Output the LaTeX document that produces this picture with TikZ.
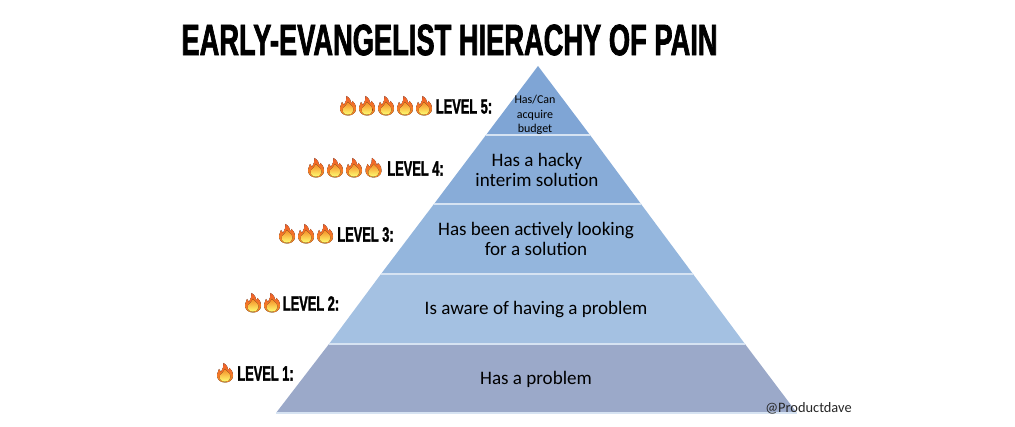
\documentclass[tikz,border=0pt]{standalone}
\usepackage{fontspec}
\setmainfont{Carlito}
\newfontfamily\titlefont[FakeStretch=0.62,FakeBold=1.5]{Liberation Sans Bold}
\definecolor{bandA}{HTML}{9BA9C9}
\definecolor{bandB}{HTML}{A4C1E2}
\definecolor{bandC}{HTML}{94B6DD}
\definecolor{bandD}{HTML}{88ACD8}
\definecolor{bandE}{HTML}{7FA5D5}
\definecolor{bandline}{HTML}{D6E3F2}
\definecolor{flameout}{HTML}{F0602A}
\definecolor{flamelow}{HTML}{F58A25}
\tikzset{
	band/.style={text=black,font=\fontsize{14.3}{15.4}\selectfont,align=center},
	levellabel/.style={font=\titlefont\fontsize{15.5}{17}\selectfont,inner sep=0pt},
	flame/.pic={
		\fill[top color=flameout,bottom color=flamelow] (0,9.5) .. controls (-5,9.5) and (-8.5,6) .. (-8,1.5) .. controls (-7.8,-1) and (-6.5,-2) .. (-6,-4) .. controls (-5,-3) and (-4.5,-2) .. (-4,-1) .. controls (-2.5,-4) and (-1,-7) .. (-1.5,-10) .. controls (2,-8) and (3,-5) .. (3.5,-2.5) .. controls (4,-3) and (4.5,-4) .. (4.5,-5) .. controls (7.5,-2) and (8.5,1) .. (8,3) .. controls (8,7) and (4,9.5) .. (0,9.5) -- cycle;
		\fill[top color=flamelow,bottom color=yellow!55!white] (0,8.7) .. controls (-4,8.7) and (-6,6) .. (-5,2.5) .. controls (-4,0.5) and (-1,-1) .. (0,-4) .. controls (2,-1.5) and (5.5,0.5) .. (5.5,4) .. controls (5.5,7) and (3,8.7) .. (0,8.7) -- cycle;
	}
}
\begin{document}
\begin{tikzpicture}[x=0.75pt,y=-0.75pt]
	\useasboundingbox (0,0) rectangle (1015,427);
%	Title :
	\node[font=\titlefont\fontsize{33}{36}\selectfont,inner sep=0pt] (title) at (449.5,40) {EARLY-EVANGELIST HIERACHY OF PAIN};
%	Pyramid bands :
	\fill[bandE] (538,66) -- (590,135) -- (486,135) -- cycle;
	\fill[bandD] (486,135) -- (590,135) -- (641,204) -- (434,204) -- cycle;
	\fill[bandC] (434,204) -- (641,204) -- (693,274) -- (381,274) -- cycle;
	\fill[bandB] (381,274) -- (693,274) -- (745,344) -- (329,344) -- cycle;
	\fill[bandA] (329,344) -- (745,344) -- (797,413) -- (276,413) -- cycle;
%	Separators :
	\draw[bandline,thick] (486,135) -- (590,135);
	\draw[bandline,thick] (434,204) -- (641,204);
	\draw[bandline,thick] (381,274) -- (693,274);
	\draw[bandline,thick] (329,344) -- (745,344);
	\draw[bandline,thick] (276,413) -- (797,413);
%	Band texts :
	\node[band,font=\fontsize{9}{10.6}\selectfont] (five) at (535,115) {Has/Can\\acquire\\budget};
	\node[band] (four) at (537,170) {Has a hacky\\interim solution};
	\node[band] (three) at (536,239) {Has been actively looking\\for a solution};
	\node[band] (two) at (536,310) {Is aware of having a problem};
	\node[band] (one) at (536,379.5) {Has a problem};
%	Level labels :
	\node[levellabel] (levelfive) at (464,106.5) {LEVEL 5:};
	\node[levellabel] (levelfour) at (415.5,168.5) {LEVEL 4:};
	\node[levellabel] (levelthree) at (365.5,234.5) {LEVEL 3:};
	\node[levellabel] (leveltwo) at (311,303.5) {LEVEL 2:};
	\node[levellabel] (levelone) at (265.5,373.5) {LEVEL 1:};
%	Flames :
	\foreach \xf in {348,367,386,405,424} \pic at (\xf,106) {flame};
	\foreach \xf in {316,335,354,373.5} \pic at (\xf,168) {flame};
	\foreach \xf in {287,306,325} \pic at (\xf,234) {flame};
	\foreach \xf in {253,272} \pic at (\xf,303) {flame};
	\pic at (225,373) {flame};
%	Signature :
	\node[text=black!85,font=\fontsize{10.8}{12}\selectfont,inner sep=0pt] (signature) at (808.5,408) {@Productdave};
\end{tikzpicture}
\end{document}
